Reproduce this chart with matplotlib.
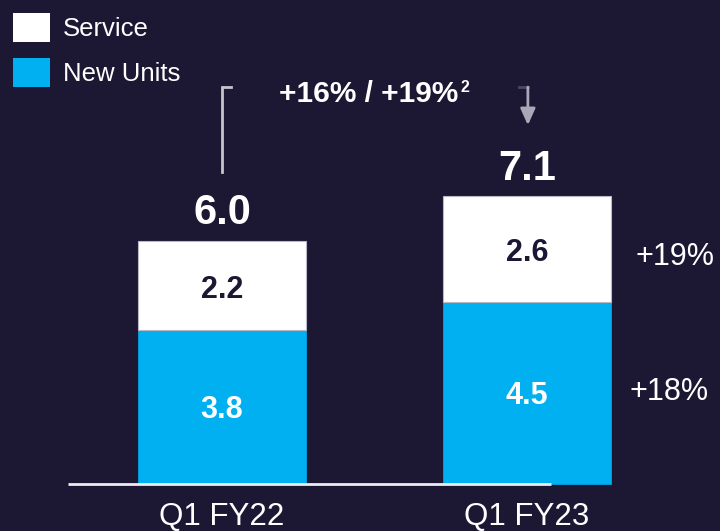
import matplotlib
matplotlib.use("Agg")
import matplotlib.pyplot as plt
import numpy as np

categories = ["Q1 FY22", "Q1 FY23"]
new_units = [3.8, 4.5]
service = [2.2, 2.6]
totals = [6.0, 7.1]
growth_labels = ["+18%", "+19%"]   # New Units, Service
headline = "+16% / +19%"
headline_sup = "2"

BG = "#1c1733"
BLUE = "#00b0f0"
WHITE = "#ffffff"
NAVY = "#1c1733"

plt.rcParams['font.family'] = ['Liberation Sans', 'DejaVu Sans']

fig = plt.figure(figsize=(7.2, 5.31), dpi=100, facecolor=BG)
ax = fig.add_axes([0, 0, 1, 1])
ax.set_facecolor(BG)
ax.set_xlim(-0.728, 1.633)
ax.set_ylim(-1.160, 11.951)
ax.axis('off')

x = np.arange(len(categories))
w = 0.551
b_units = ax.bar(x, new_units, width=w, color=BLUE, edgecolor=BLUE, linewidth=0.5, label="New Units")
b_serv = ax.bar(x, service, bottom=new_units, width=w, color=WHITE, edgecolor="#b8b8c4", linewidth=0.8, label="Service")

# baseline
ax.plot([-0.505, 1.079], [0, 0], color="#ececf2", lw=2, solid_capstyle='butt')

for i in range(len(categories)):
    ax.text(x[i], new_units[i] / 2 - 0.08, f"{new_units[i]:.1f}", ha='center', va='center',
            color=WHITE, fontsize=22, fontweight='bold')
    ax.text(x[i], new_units[i] + service[i] / 2 - 0.1, f"{service[i]:.1f}", ha='center', va='center',
            color=NAVY, fontsize=22, fontweight='bold')
    ax.text(x[i], totals[i] + 0.68, f"{totals[i]:.1f}", ha='center', va='center',
            color=WHITE, fontsize=30, fontweight='bold')
    ax.text(x[i], -0.82, categories[i], ha='center', va='center', color=WHITE, fontsize=22.5)

# growth labels on the right
ax.text(1.485, 5.6, growth_labels[1], ha='center', va='center', color=WHITE, fontsize=22)
ax.text(1.466, 2.27, growth_labels[0], ha='center', va='center', color=WHITE, fontsize=22)

# headline
t = ax.text(0.48, 9.62, headline, ha='center', va='center', color=WHITE, fontsize=21.5, fontweight='bold')
ax.annotate(headline_sup, xy=(1, 1), xycoords=t, xytext=(1.5, 0.5), textcoords='offset points',
            ha='left', va='top', color=WHITE, fontsize=11.5, fontweight='bold')

# bracket on left bar
ax.plot([0.03, 0, 0], [9.80, 9.80, 7.70], color="#c4c4cc", lw=2, solid_joinstyle='miter')
# arrow on right bar
ax.plot([0.974, 1.003], [9.80, 9.80], color="#4a4a60", lw=2)
ax.annotate("", xy=(1.003, 8.86), xytext=(1.003, 9.80),
            arrowprops=dict(arrowstyle="-|>,head_length=1.0,head_width=0.45", color="#a8a8b8", lw=2,
                            shrinkA=0, shrinkB=0))

leg = ax.legend(handles=[b_serv, b_units], labels=["Service", "New Units"], loc='upper left',
                bbox_to_anchor=(0.0, 1.0), frameon=False, fontsize=18.5, labelcolor=WHITE,
                handlelength=1.44, handleheight=1.36, handletextpad=0.5, labelspacing=0.62,
                borderaxespad=0.45, borderpad=0.05)
for h in leg.legend_handles:
    h.set_edgecolor('none')

fig.savefig("out.png", dpi=100, facecolor=BG)
